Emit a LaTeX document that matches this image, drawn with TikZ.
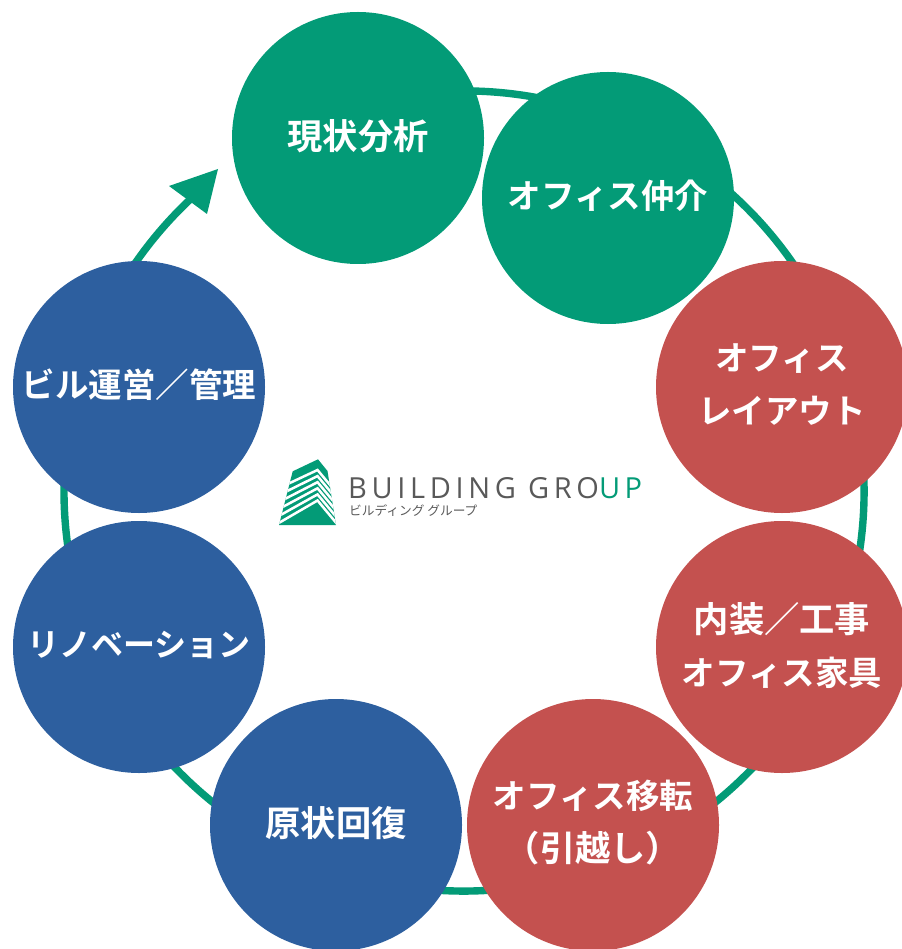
\documentclass[tikz,border=0pt]{standalone}
\usepackage{fontspec}
\setmainfont{Noto Sans CJK JP}
\newfontfamily\cjk{Noto Sans CJK JP Bold}
\newfontfamily\latn{Open Sans}[LetterSpace=16]
\newfontfamily\jsub{Noto Sans CJK JP}
\definecolor{grn}{HTML}{039B77}
\definecolor{rd}{HTML}{C4514F}
\definecolor{bl}{HTML}{2D5F9F}
\definecolor{gry}{HTML}{595959}
\newcommand{\fsz}[1]{\fontsize{#1}{53}\selectfont}
\tikzset{
 circ/.style={circle,minimum size=252pt,inner sep=0pt},
 gcirc/.style={circ,fill=grn},
 rcirc/.style={circ,fill=rd},
 bcirc/.style={circ,fill=bl},
 lbl/.style={inner sep=0pt,yshift=2pt,text=white,align=center,font=\cjk\fsz{33.5}},
 ring/.style={draw=grn,line width=7.4pt},
 logotext/.style={inner sep=0pt,anchor=west,text=gry},
 stripe/.style={draw=white,line width=2.5pt}
}
\begin{document}
\begin{tikzpicture}[x=1pt,y=-1pt]
\useasboundingbox (0,0) rectangle (901,949);
\coordinate (c) at (464,491);
\coordinate (tip) at (218,169);
\coordinate (h1) at (169,186);
\coordinate (h2) at (207,214);
\draw[ring] (c) ++(-100:400) arc[start angle=-100,end angle=227,radius=400];
\fill[grn] (tip) -- (h1) -- (h2) -- cycle;
\node[gcirc] (n1) at (358,138) {};
\node[gcirc] (n2) at (608,198) {};
\node[rcirc] (n3) at (782,387) {};
\node[rcirc] (n4) at (782,647) {};
\node[rcirc] (n5) at (593,825) {};
\node[bcirc] (n6) at (336,825) {};
\node[bcirc] (n7) at (139,647) {};
\node[bcirc] (n8) at (139,387) {};
\node[lbl,font=\cjk\fsz{35.3}] (l1) at (n1.center) {現状分析};
\node[lbl] (l2) at (n2.center) {オフィス仲介};
\node[lbl] (l3) at (n3.center) {オフィス\\レイアウト};
\node[lbl] (l4) at (n4.center) {{\fsz{35.3}内装／工事}\\オフィス家具};
\node[lbl] (l5) at (n5.center) {オフィス移転\\{\fsz{35.3}（引越し）}};
\node[lbl,font=\cjk\fsz{35.3}] (l6) at (n6.center) {原状回復};
\node[lbl,font=\cjk\fsz{32}] (l7) at (n7.center) {リノベーション};
\node[lbl] (l8) at (n8.center) {ビル運営／管理};
% logo
\begin{scope}
 \clip (292.7,471.3) -- (318,459.3) -- (327.5,471) -- (336,525) -- (279,525) -- cycle;
 \fill[grn] (270,455) rectangle (340,530);
 \foreach \i in {0,...,5}{
  \pgfmathsetmacro{\ry}{470+6.1*\i}
  \pgfmathsetmacro{\ly}{\ry+40*(0.47+0.022*\i)}
  \draw[stripe] (277.5,\ly) -- (317.5,\ry) -- (340,{\ry+1.2*22.5});
 }
\end{scope}
\node[logotext,font=\latn\fontsize{29}{29}\selectfont] (t1) at (348,488) {BUILDING GRO\textcolor{grn}{UP}};
\node[logotext,font=\jsub\fontsize{12.7}{12.7}\selectfont] (t2) at (349,511) {ビルディング グループ};
\end{tikzpicture}
\end{document}
